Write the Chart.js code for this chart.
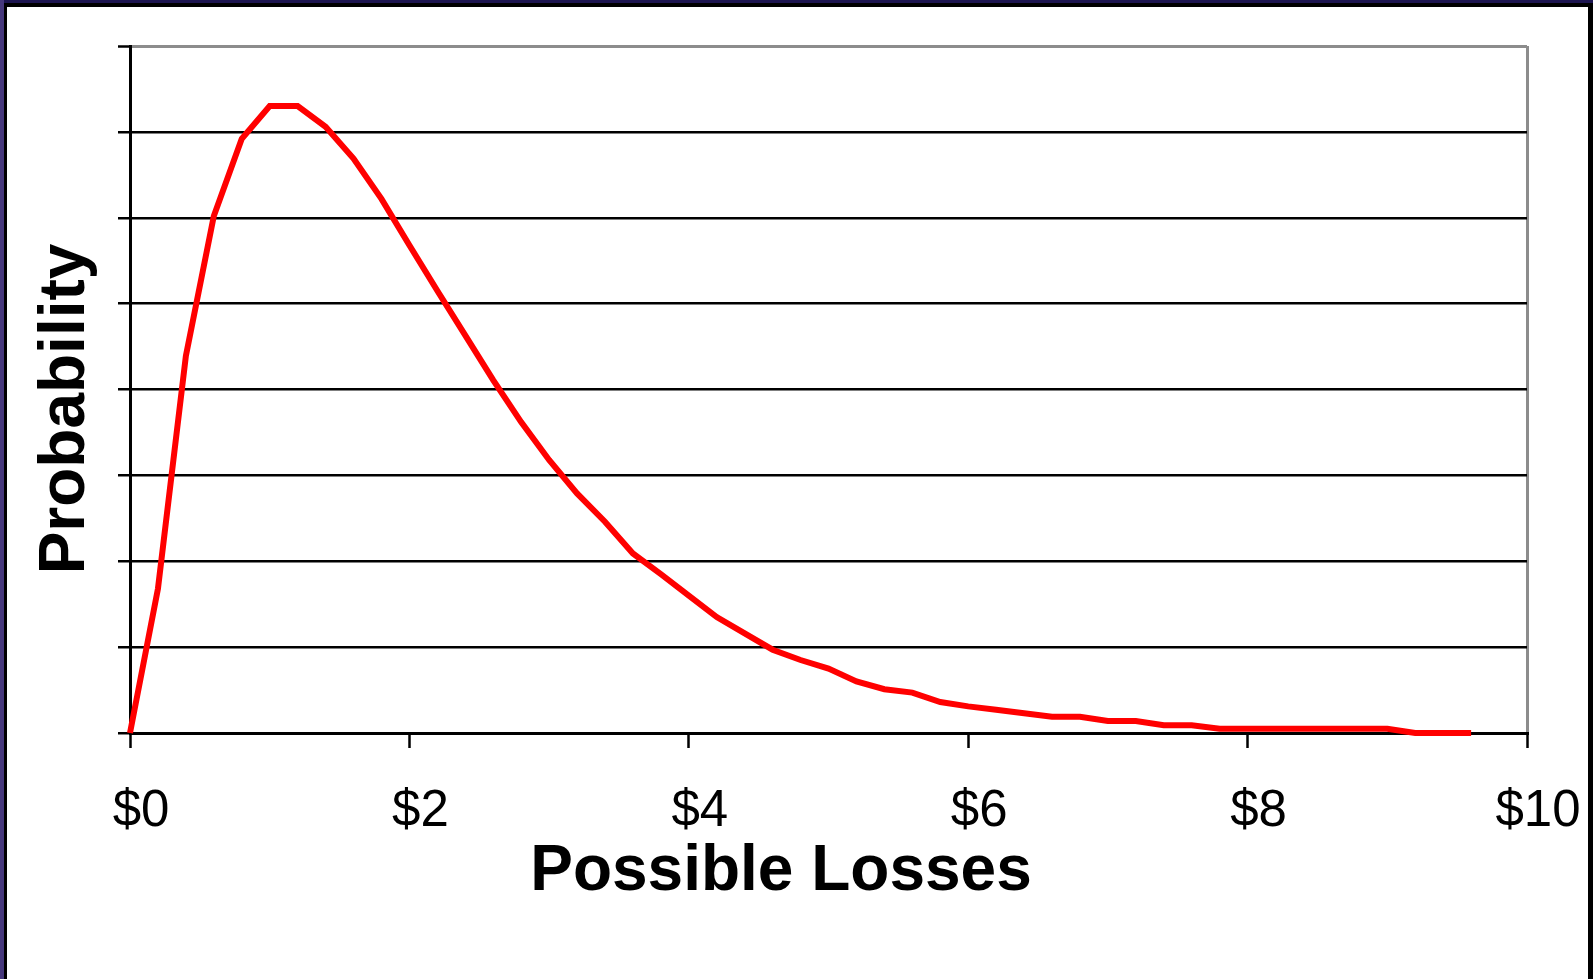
<!DOCTYPE html>
<html>
<head>
<meta charset="utf-8">
<script src="https://cdn.jsdelivr.net/npm/chart.js@4.4.1/dist/chart.umd.min.js"></script>
<style>
  html, body { margin: 0; padding: 0; width: 1593px; height: 979px; overflow: hidden; background: #1d1550; }
  #strip { position: absolute; left: 0; top: 0; width: 4px; height: 979px; background: #46387c; }
  #panel { position: absolute; left: 4px; top: 3px; width: 1581px; height: 1000px; background: #fff;
           border-style: solid; border-color: #000; border-width: 4px 5px 0 3px; }
  #c { position: absolute; left: 0; top: 0; }
</style>
</head>
<body>
<div id="strip"></div>
<div id="panel"></div>
<canvas id="c" width="1593" height="979"></canvas>
<script>
// ---- data ----
const lossValues = [0, 0.2, 0.4, 0.6, 0.8, 1.0, 1.2, 1.4, 1.6, 1.8, 2.0, 2.2, 2.4, 2.6, 2.8, 3.0, 3.2, 3.4, 3.6, 3.8,
                    4.0, 4.2, 4.4, 4.6, 4.8, 5.0, 5.2, 5.4, 5.6, 5.8, 6.0, 6.2, 6.4, 6.6, 6.8, 7.0, 7.2, 7.4, 7.6, 7.8,
                    8.0, 8.2, 8.4, 8.6, 8.8, 9.0, 9.2, 9.4, 9.6];
const probability = [0, 1.68, 4.39, 6.02, 6.92, 7.30, 7.30, 7.06, 6.69, 6.22, 5.68, 5.15, 4.63, 4.11, 3.62, 3.18, 2.79, 2.46, 2.09, 1.85,
                     1.60, 1.35, 1.16, 0.97, 0.85, 0.75, 0.60, 0.51, 0.47, 0.36, 0.31, 0.27, 0.23, 0.19, 0.19, 0.14, 0.14, 0.09, 0.09, 0.05,
                     0.05, 0.05, 0.05, 0.05, 0.05, 0.05, 0, 0, 0];
const xTickValues = [0, 2, 4, 6, 8, 10];
const xTickLabels = ['$0', '$2', '$4', '$6', '$8', '$10'];
const yGridValues = [0, 1, 2, 3, 4, 5, 6, 7, 8];
const xTitle = 'Possible Losses';
const yTitle = 'Probability';

const points = lossValues.map((x, i) => ({ x: x, y: probability[i] }));
const FONT = '"Liberation Sans", Arial, Helvetica, sans-serif';

const titlePlugin = {
  id: 'axisTitles',
  afterDraw(chart) {
    const ctx = chart.ctx, a = chart.chartArea;
    ctx.save();
    ctx.fillStyle = '#000';
    ctx.font = 'bold 64px ' + FONT;
    ctx.textAlign = 'center';
    ctx.textBaseline = 'alphabetic';
    ctx.fillText(xTitle, a.left + 651, a.bottom + 157);
    ctx.translate(a.left - 46, a.top + 363);
    ctx.rotate(-Math.PI / 2);
    ctx.fillText(yTitle, 0, 0);
    ctx.restore();
  }
};

new Chart(document.getElementById('c'), {
  type: 'line',
  data: {
    datasets: [{
      data: points,
      borderColor: '#ff0000',
      borderWidth: 6,
      pointRadius: 0,
      tension: 0,
      fill: false,
      clip: false,
      borderJoinStyle: 'miter'
    }]
  },
  options: {
    responsive: false,
    animation: false,
    devicePixelRatio: 1,
    layout: { padding: { left: 118, top: 46, right: 66, bottom: 0 } },
    plugins: { legend: { display: false }, tooltip: { enabled: false }, title: { display: false } },
    scales: {
      x: {
        type: 'linear',
        min: 0, max: 10,
        afterBuildTicks: s => { s.ticks = xTickValues.map(v => ({ value: v })); },
        afterFit: s => { s.height = 246; s.paddingLeft = 0; s.paddingRight = 0; },
        ticks: {
          color: '#000',
          font: { family: FONT, size: 51 },
          padding: 33,
          labelOffset: 11,
          maxRotation: 0,
          autoSkip: false,
          callback: (v) => xTickLabels[xTickValues.indexOf(v)]
        },
        grid: {
          drawOnChartArea: true,
          color: c => (c.tick && c.tick.value === 10) ? '#8c8c8c' : 'rgba(0,0,0,0)',
          lineWidth: 3,
          tickColor: '#000',
          tickWidth: 2.5,
          tickLength: 15
        },
        border: { display: true, color: '#000', width: 3 }
      },
      y: {
        type: 'linear',
        min: 0, max: 8,
        afterBuildTicks: s => { s.ticks = yGridValues.map(v => ({ value: v })); },
        afterFit: s => { s.width = 12; s.paddingTop = 0; s.paddingBottom = 0; },
        ticks: { display: false },
        grid: {
          color: c => (c.tick && c.tick.value === 8) ? '#8c8c8c' : '#000',
          lineWidth: c => (c.tick && c.tick.value === 8) ? 3 : 2.5,
          tickColor: '#000',
          tickWidth: 2.5,
          tickLength: 12
        },
        border: { display: true, color: '#000', width: 3 }
      }
    }
  },
  plugins: [titlePlugin]
});
</script>
</body>
</html>
